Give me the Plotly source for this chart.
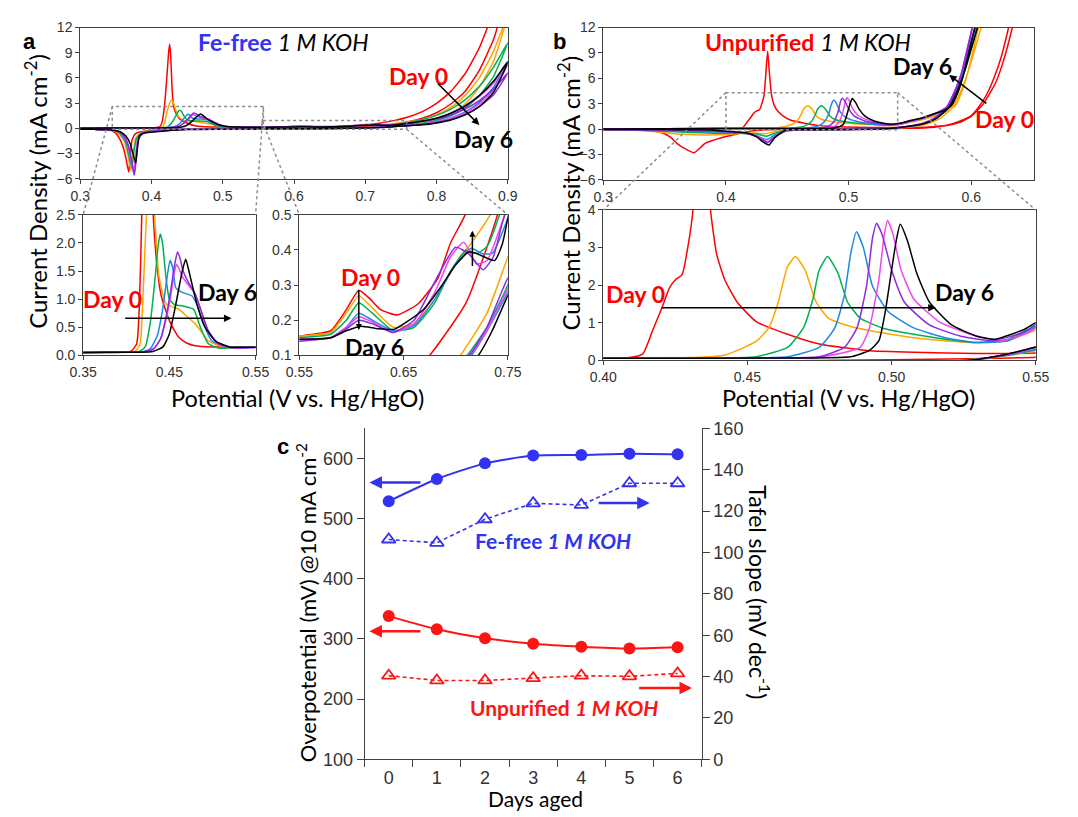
import plotly.graph_objects as go

W, H = 1078, 817

# ---------------- Panel a (Fe-free 1 M KOH) : CV curves, days 0..6 ----------------
A0_FWD_V = [0.300,0.350,0.405,0.412,0.415,0.418,0.421,0.424,0.4255,0.427,0.429,0.431,0.435,0.440,0.446,0.452,0.461,0.470,0.480,0.500,0.530,0.550,0.580,0.595,0.607,0.618,0.628,0.644,0.664,0.683,0.695,0.709,0.720,0.740,0.760,0.780,0.800,0.820,0.840,0.860,0.880,0.900]
A0_FWD_J = [0.00,0.05,0.07,0.20,0.80,2.50,5.50,9.00,10.0,8.50,4.50,2.60,1.70,1.10,0.79,0.55,0.32,0.22,0.17,0.15,0.15,0.155,0.17,0.23,0.285,0.26,0.23,0.215,0.247,0.32,0.42,0.50,0.62,0.92,1.36,2.00,2.98,4.40,6.50,9.60,14.0,20.0]
A0_REV_V = [0.885,0.880,0.860,0.840,0.820,0.800,0.780,0.760,0.740,0.710,0.675,0.650,0.600,0.550,0.500,0.450,0.420,0.400,0.385,0.378,0.373,0.370,0.368,0.364,0.360,0.355,0.350,0.344,0.320,0.300]
A0_REV_J = [12.0,10.6,6.90,4.40,2.90,1.86,1.20,0.78,0.50,0.25,0.10,0.03,-0.03,-0.05,-0.07,-0.10,-0.15,-0.25,-0.40,-0.60,-1.30,-3.50,-5.20,-3.50,-2.20,-1.20,-0.60,-0.25,-0.12,-0.10]

A1_FWD_V = [0.300,0.350,0.410,0.416,0.419,0.422,0.425,0.428,0.431,0.434,0.438,0.446,0.454,0.461,0.470,0.480,0.488,0.495,0.510,0.530,0.550,0.580,0.595,0.607,0.620,0.640,0.660,0.680,0.700,0.715,0.733,0.750,0.780,0.800,0.820,0.840,0.860,0.880,0.900]
A1_FWD_J = [0.00,0.05,0.07,0.20,0.90,2.00,2.90,3.35,3.00,2.20,1.40,0.92,0.86,0.82,0.70,0.56,0.40,0.26,0.16,0.15,0.155,0.165,0.22,0.27,0.235,0.18,0.19,0.26,0.36,0.42,0.50,0.66,1.05,1.60,2.50,3.90,6.00,9.20,13.5]
A1_REV_V = [0.880,0.860,0.840,0.820,0.800,0.780,0.760,0.750,0.730,0.7045,0.680,0.650,0.600,0.550,0.500,0.450,0.420,0.400,0.385,0.378,0.374,0.371,0.367,0.362,0.356,0.350,0.342,0.320,0.300]
A1_REV_J = [8.00,4.90,2.90,1.75,1.10,0.70,0.45,0.38,0.22,0.10,0.02,-0.03,-0.05,-0.06,-0.08,-0.10,-0.15,-0.30,-0.50,-1.20,-3.00,-5.00,-3.20,-1.60,-0.80,-0.40,-0.20,-0.12,-0.10]

A2_FWD_V = [0.300,0.350,0.415,0.422,0.428,0.433,0.437,0.4395,0.442,0.446,0.450,0.456,0.465,0.478,0.486,0.495,0.507,0.530,0.550,0.580,0.595,0.607,0.620,0.640,0.660,0.680,0.695,0.710,0.720,0.730,0.742,0.760,0.780,0.800,0.820,0.840,0.860,0.880,0.900]
A2_FWD_J = [0.00,0.05,0.07,0.15,0.60,1.30,1.95,2.16,2.00,1.40,1.00,0.90,0.88,0.82,0.50,0.21,0.13,0.14,0.15,0.16,0.20,0.25,0.22,0.17,0.18,0.25,0.34,0.40,0.39,0.41,0.50,0.70,1.05,1.55,2.30,3.40,5.00,7.30,10.2]
A2_REV_V = [0.880,0.860,0.840,0.820,0.800,0.780,0.760,0.750,0.730,0.711,0.690,0.650,0.600,0.550,0.500,0.450,0.420,0.400,0.386,0.379,0.375,0.3725,0.369,0.365,0.360,0.354,0.345,0.320,0.300]
A2_REV_J = [6.20,3.90,2.40,1.50,0.95,0.60,0.40,0.30,0.18,0.10,0.04,-0.02,-0.05,-0.06,-0.08,-0.10,-0.15,-0.30,-0.50,-1.20,-3.00,-4.70,-3.50,-2.00,-1.10,-0.50,-0.20,-0.12,-0.10]

A3_FWD_V = [0.300,0.350,0.420,0.428,0.436,0.442,0.447,0.4508,0.454,0.4575,0.465,0.476,0.482,0.488,0.499,0.518,0.550,0.580,0.595,0.607,0.620,0.640,0.660,0.680,0.700,0.715,0.725,0.735,0.750,0.770,0.800,0.820,0.840,0.860,0.880,0.900]
A3_FWD_J = [0.00,0.05,0.07,0.12,0.35,0.80,1.35,1.69,1.55,1.20,1.12,1.06,0.90,0.62,0.26,0.15,0.145,0.15,0.18,0.22,0.20,0.17,0.185,0.26,0.36,0.405,0.39,0.39,0.49,0.68,1.20,1.80,2.70,3.90,5.60,8.00]
A3_REV_V = [0.880,0.860,0.840,0.820,0.800,0.780,0.760,0.750,0.730,0.715,0.690,0.650,0.600,0.550,0.500,0.450,0.420,0.400,0.388,0.381,0.378,0.3756,0.372,0.368,0.362,0.355,0.345,0.320,0.300]
A3_REV_J = [4.90,3.10,1.95,1.25,0.80,0.52,0.34,0.28,0.17,0.10,0.04,-0.02,-0.05,-0.06,-0.08,-0.10,-0.20,-0.35,-0.55,-1.30,-3.20,-5.60,-3.80,-2.20,-1.00,-0.45,-0.20,-0.12,-0.10]

A4_FWD_V = [0.300,0.350,0.422,0.432,0.440,0.447,0.452,0.4555,0.4583,0.461,0.465,0.472,0.480,0.488,0.495,0.507,0.525,0.550,0.580,0.595,0.607,0.620,0.640,0.660,0.680,0.695,0.7077,0.720,0.730,0.747,0.770,0.800,0.820,0.840,0.860,0.880,0.900]
A4_FWD_J = [0.00,0.05,0.07,0.12,0.30,0.70,1.10,1.45,1.62,1.55,1.40,1.25,1.09,0.74,0.44,0.20,0.13,0.145,0.15,0.18,0.21,0.195,0.165,0.19,0.28,0.38,0.422,0.36,0.37,0.50,0.72,1.20,1.75,2.60,3.80,5.40,7.60]
A4_REV_V = [0.880,0.860,0.840,0.820,0.800,0.780,0.760,0.750,0.730,0.714,0.690,0.650,0.600,0.550,0.500,0.450,0.420,0.400,0.388,0.381,0.378,0.375,0.371,0.367,0.361,0.355,0.345,0.320,0.300]
A4_REV_J = [4.60,2.90,1.85,1.20,0.78,0.50,0.33,0.29,0.17,0.10,0.04,-0.02,-0.05,-0.06,-0.08,-0.10,-0.20,-0.35,-0.55,-1.30,-3.20,-5.30,-3.70,-2.10,-1.00,-0.45,-0.20,-0.12,-0.10]

A5_FWD_V = [0.300,0.350,0.422,0.432,0.440,0.447,0.452,0.456,0.4594,0.462,0.466,0.472,0.480,0.488,0.495,0.507,0.525,0.550,0.580,0.595,0.607,0.620,0.640,0.660,0.680,0.6998,0.712,0.7263,0.736,0.745,0.760,0.800,0.820,0.840,0.860,0.880,0.900]
A5_FWD_J = [0.00,0.05,0.07,0.12,0.30,0.75,1.20,1.60,1.84,1.75,1.50,1.30,1.09,0.74,0.44,0.20,0.13,0.14,0.15,0.175,0.20,0.19,0.165,0.20,0.31,0.408,0.39,0.344,0.38,0.48,0.62,1.10,1.60,2.30,3.30,4.70,6.60]
A5_REV_V = [0.880,0.860,0.840,0.820,0.800,0.780,0.760,0.750,0.730,0.713,0.690,0.650,0.600,0.550,0.500,0.450,0.420,0.400,0.388,0.382,0.379,0.376,0.372,0.368,0.362,0.355,0.345,0.320,0.300]
A5_REV_J = [4.00,2.60,1.65,1.07,0.70,0.47,0.35,0.32,0.18,0.10,0.04,-0.02,-0.05,-0.06,-0.08,-0.10,-0.20,-0.35,-0.55,-1.30,-3.20,-5.50,-3.80,-2.20,-1.00,-0.45,-0.20,-0.12,-0.10]

A6_FWD_V = [0.300,0.350,0.431,0.4425,0.450,0.4575,0.465,0.469,0.4745,0.482,0.4915,0.503,0.520,0.550,0.580,0.595,0.609,0.625,0.6407,0.6687,0.6874,0.6998,0.7123,0.720,0.7372,0.745,0.750,0.770,0.800,0.820,0.840,0.860,0.880,0.900]
A6_FWD_J = [0.00,0.05,0.07,0.15,0.38,0.91,1.50,1.71,1.38,0.91,0.50,0.26,0.15,0.146,0.15,0.17,0.183,0.176,0.174,0.229,0.302,0.357,0.394,0.39,0.37,0.42,0.49,0.72,1.20,1.80,2.65,3.90,5.60,7.90]
A6_REV_V = [0.880,0.860,0.840,0.820,0.800,0.780,0.760,0.750,0.735,0.7217,0.700,0.650,0.600,0.550,0.500,0.450,0.420,0.400,0.390,0.383,0.380,0.378,0.374,0.370,0.364,0.356,0.345,0.320,0.300]
A6_REV_J = [4.30,2.60,1.60,1.00,0.65,0.42,0.32,0.27,0.17,0.10,0.04,-0.02,-0.05,-0.06,-0.10,-0.15,-0.30,-0.45,-0.55,-0.90,-2.50,-4.10,-3.00,-1.80,-0.90,-0.40,-0.20,-0.12,-0.10]

# ---------------- Panel b (Unpurified 1 M KOH) ----------------
B0_FWD_V = [0.300,0.350,0.400,0.409,0.4137,0.417,0.4202,0.423,0.4251,0.4273,0.4295,0.4311,0.4325,0.434,0.4355,0.4372,0.4393,0.4421,0.4464,0.453,0.4639,0.4749,0.4913,0.5077,0.530,0.550,0.565,0.580,0.590,0.600,0.608,0.614,0.619,0.624,0.628,0.632,0.640]
B0_FWD_J = [0.00,0.03,0.06,0.07,0.17,0.77,1.37,1.93,2.15,2.27,3.09,4.00,6.50,9.20,6.50,4.00,2.83,2.15,1.55,1.03,0.69,0.43,0.26,0.21,0.18,0.19,0.25,0.45,0.90,1.60,3.00,4.50,6.20,8.30,10.5,13.0,18.0]
B0_REV_V = [0.635,0.630,0.625,0.620,0.610,0.600,0.590,0.580,0.570,0.550,0.520,0.480,0.440,0.420,0.410,0.397,0.383,0.374,0.365,0.360,0.355,0.349,0.340,0.320,0.300]
B0_REV_J = [13.0,10.0,7.50,5.50,3.00,1.50,0.75,0.40,0.22,0.08,0.03,0.00,-0.05,-0.25,-0.55,-1.00,-1.70,-2.80,-2.20,-1.70,-1.00,-0.50,-0.20,-0.08,-0.05]

B1_FWD_V = [0.300,0.400,0.430,0.442,0.453,0.4574,0.4607,0.4639,0.4667,0.470,0.4738,0.4781,0.4858,0.4967,0.5077,0.5186,0.5295,0.5404,0.546,0.550,0.560,0.570,0.580,0.587,0.592,0.597,0.6026,0.606,0.615]
B1_FWD_J = [0.00,0.05,0.07,0.13,0.50,0.86,1.55,2.49,2.76,2.40,1.55,1.12,0.90,0.73,0.60,0.52,0.47,0.52,0.69,0.80,1.10,1.50,2.10,2.77,4.30,6.60,10.0,12.0,17.0]
B1_REV_V = [0.610,0.603,0.598,0.593,0.585,0.575,0.565,0.555,0.550,0.540,0.525,0.500,0.470,0.450,0.440,0.432,0.420,0.400,0.380,0.360,0.340,0.320,0.300]
B1_REV_J = [13.0,9.50,7.00,5.00,2.60,1.30,0.65,0.32,0.25,0.12,0.00,-0.05,-0.10,-0.15,-0.30,-0.55,-0.45,-0.65,-0.70,-0.60,-0.30,-0.10,-0.05]

B2_FWD_V = [0.300,0.400,0.440,0.453,0.4639,0.4694,0.4727,0.4749,0.4778,0.4814,0.4847,0.4891,0.4967,0.5077,0.5186,0.5295,0.5404,0.546,0.550,0.560,0.570,0.576,0.583,0.589,0.594,0.5996,0.603,0.612]
B2_FWD_J = [0.00,0.05,0.06,0.09,0.34,0.86,1.63,2.40,2.76,2.32,1.55,1.12,0.86,0.69,0.56,0.47,0.56,0.77,0.90,1.25,1.75,2.20,2.77,4.30,6.60,10.0,12.0,17.0]
B2_REV_V = [0.607,0.600,0.595,0.590,0.582,0.572,0.562,0.552,0.550,0.540,0.525,0.500,0.470,0.450,0.440,0.433,0.425,0.410,0.390,0.370,0.350,0.320,0.300]
B2_REV_J = [13.0,9.50,7.00,5.00,2.60,1.30,0.65,0.32,0.28,0.13,0.00,-0.05,-0.10,-0.12,-0.50,-0.85,-0.60,-0.50,-0.50,-0.40,-0.25,-0.10,-0.05]

B3_FWD_V = [0.300,0.400,0.450,0.4639,0.4749,0.4803,0.4836,0.4858,0.4878,0.4902,0.4934,0.4989,0.5077,0.5186,0.5295,0.5404,0.546,0.550,0.560,0.570,0.576,0.5825,0.5875,0.5925,0.598,0.601,0.610]
B3_FWD_J = [0.00,0.05,0.06,0.09,0.34,0.86,1.72,2.83,3.42,3.00,1.97,1.29,0.86,0.60,0.47,0.52,0.73,0.88,1.25,1.75,2.20,2.77,4.30,6.60,10.0,12.0,17.0]
B3_REV_V = [0.606,0.599,0.594,0.589,0.581,0.571,0.561,0.552,0.550,0.540,0.527,0.500,0.470,0.450,0.440,0.433,0.425,0.410,0.390,0.370,0.350,0.320,0.300]
B3_REV_J = [13.0,9.50,7.00,5.00,2.60,1.30,0.65,0.35,0.30,0.14,0.00,-0.05,-0.10,-0.15,-0.70,-1.25,-0.80,-0.45,-0.35,-0.30,-0.15,-0.08,-0.05]

B4_FWD_V = [0.300,0.400,0.460,0.475,0.4891,0.4923,0.4956,0.4973,0.4986,0.5005,0.5033,0.5077,0.5164,0.5273,0.5383,0.546,0.550,0.560,0.570,0.576,0.582,0.587,0.592,0.5976,0.6008,0.610]
B4_FWD_J = [0.00,0.05,0.06,0.08,0.34,0.86,2.15,3.26,3.72,3.35,2.40,1.63,1.03,0.69,0.52,0.69,0.85,1.25,1.80,2.20,2.77,4.30,6.60,10.0,12.0,17.0]
B4_REV_V = [0.605,0.598,0.593,0.588,0.580,0.570,0.560,0.552,0.550,0.540,0.527,0.500,0.470,0.450,0.440,0.434,0.426,0.415,0.400,0.370,0.350,0.320,0.300]
B4_REV_J = [13.0,9.50,7.00,5.00,2.60,1.30,0.65,0.38,0.33,0.15,0.00,-0.05,-0.10,-0.20,-0.85,-1.50,-0.90,-0.45,-0.30,-0.20,-0.12,-0.08,-0.05]

B5_FWD_V = [0.300,0.400,0.460,0.4749,0.4836,0.488,0.4913,0.4934,0.4948,0.4967,0.500,0.5044,0.5131,0.524,0.535,0.546,0.550,0.560,0.570,0.576,0.582,0.587,0.592,0.5976,0.6008,0.610]
B5_FWD_J = [0.00,0.05,0.06,0.09,0.34,0.86,1.97,3.26,3.65,3.35,2.40,1.55,0.94,0.64,0.52,0.75,0.95,1.30,1.80,2.20,2.77,4.30,6.60,10.0,12.0,17.0]
B5_REV_V = [0.605,0.598,0.593,0.588,0.580,0.570,0.560,0.552,0.550,0.540,0.527,0.500,0.470,0.450,0.440,0.434,0.426,0.415,0.400,0.370,0.350,0.320,0.300]
B5_REV_J = [13.0,9.50,7.00,5.00,2.60,1.30,0.65,0.40,0.35,0.16,0.00,-0.05,-0.10,-0.20,-0.90,-1.60,-0.95,-0.45,-0.30,-0.20,-0.12,-0.08,-0.05]

B6_FWD_V = [0.300,0.400,0.470,0.4858,0.4923,0.4956,0.4978,0.500,0.5016,0.503,0.5055,0.5087,0.5131,0.5208,0.5295,0.536,0.546,0.550,0.560,0.570,0.578,0.584,0.589,0.594,0.5996,0.603,0.612]
B6_FWD_J = [0.00,0.05,0.06,0.09,0.26,0.52,1.29,2.40,3.18,3.62,3.18,2.32,1.55,0.94,0.64,0.56,0.82,1.00,1.30,1.80,2.20,2.77,4.30,6.60,10.0,12.0,17.0]
B6_REV_V = [0.607,0.600,0.595,0.590,0.582,0.572,0.562,0.553,0.550,0.540,0.527,0.500,0.470,0.449,0.440,0.435,0.430,0.425,0.418,0.395,0.380,0.350,0.300]
B6_REV_J = [13.0,9.50,7.00,5.00,2.60,1.30,0.65,0.40,0.35,0.16,0.00,-0.05,-0.08,-0.10,-1.00,-1.90,-1.50,-0.92,-0.50,-0.20,-0.10,-0.06,-0.05]

# ---------------- Panel c ----------------
DAYS = ["0", "1", "2", "3", "4", "5", "6"]
FEFREE_OVERPOT = [529, 566, 592, 605, 606, 608, 607]
FEFREE_TAFEL = [106.3, 104.7, 116.1, 123.8, 123.0, 133.5, 133.5]
UNPUR_OVERPOT = [338, 316, 301, 292, 287, 284, 286]
UNPUR_TAFEL = [40.4, 38.1, 38.1, 39.2, 40.4, 40.1, 41.5]

DAY_COLORS = ["#FF0000", "#FFA500", "#00B050", "#1E88E5", "#F046F0", "#8A2BE2", "#000000"]
BLUE_C = "#3232F0"
RED_C = "#FF1414"

A_CURVES = [(A0_FWD_V, A0_FWD_J, A0_REV_V, A0_REV_J), (A1_FWD_V, A1_FWD_J, A1_REV_V, A1_REV_J),
            (A2_FWD_V, A2_FWD_J, A2_REV_V, A2_REV_J), (A3_FWD_V, A3_FWD_J, A3_REV_V, A3_REV_J),
            (A4_FWD_V, A4_FWD_J, A4_REV_V, A4_REV_J), (A5_FWD_V, A5_FWD_J, A5_REV_V, A5_REV_J),
            (A6_FWD_V, A6_FWD_J, A6_REV_V, A6_REV_J)]
B_CURVES = [(B0_FWD_V, B0_FWD_J, B0_REV_V, B0_REV_J), (B1_FWD_V, B1_FWD_J, B1_REV_V, B1_REV_J),
            (B2_FWD_V, B2_FWD_J, B2_REV_V, B2_REV_J), (B3_FWD_V, B3_FWD_J, B3_REV_V, B3_REV_J),
            (B4_FWD_V, B4_FWD_J, B4_REV_V, B4_REV_J), (B5_FWD_V, B5_FWD_J, B5_REV_V, B5_REV_J),
            (B6_FWD_V, B6_FWD_J, B6_REV_V, B6_REV_J)]
for c in A_CURVES + B_CURVES:
    assert len(c[0]) == len(c[1]) and len(c[2]) == len(c[3])


def xd(p0, p1):
    return [p0 / W, p1 / W]


def yd(top, bot):
    return [1 - bot / H, 1 - top / H]


# subplot geometry (pixel boxes) and ranges
SUB = {
    "1": dict(xdom=xd(68, 507), ydom=yd(18, 173), xr=[0.3, 0.9], yr=[-6, 12]),
    "2": dict(xdom=xd(71, 248), ydom=yd(210, 354), xr=[0.35, 0.55], yr=[0, 2.5]),
    "3": dict(xdom=xd(293, 507), ydom=yd(210, 354), xr=[0.55, 0.75], yr=[0.1, 0.5]),
    "4": dict(xdom=xd(605, 1047), ydom=yd(18, 174), xr=[0.3, 0.651], yr=[-6, 12]),
    "5": dict(xdom=xd(605, 1049), ydom=yd(205, 359), xr=[0.40, 0.55], yr=[0, 4]),
}


def to_paper(sid, v, j):
    s = SUB[sid]
    px = s["xdom"][0] + (v - s["xr"][0]) / (s["xr"][1] - s["xr"][0]) * (s["xdom"][1] - s["xdom"][0])
    py = s["ydom"][0] + (j - s["yr"][0]) / (s["yr"][1] - s["yr"][0]) * (s["ydom"][1] - s["ydom"][0])
    return px, py


fig = go.Figure()


def ax_name(prefix, sid):
    return prefix if sid == "1" else prefix + sid


for sids, curves in ((["1", "2", "3"], A_CURVES), (["4", "5"], B_CURVES)):
    for sid in sids:
        for k, (fv, fj, rv, rj) in enumerate(curves):
            fig.add_trace(go.Scatter(
                x=fv + rv, y=fj + rj, mode="lines",
                line=dict(color=DAY_COLORS[k], width=1.5, shape="spline", smoothing=0.5),
                xaxis=ax_name("x", sid), yaxis=ax_name("y", sid), showlegend=False, hoverinfo="skip"))

# panel c traces
fig.add_trace(go.Scatter(x=DAYS, y=FEFREE_OVERPOT, mode="lines+markers",
                         line=dict(color=BLUE_C, width=2, shape="spline", smoothing=0.6),
                         marker=dict(symbol="circle", size=12, color=BLUE_C),
                         xaxis="x6", yaxis="y6", showlegend=False))
fig.add_trace(go.Scatter(x=DAYS, y=UNPUR_OVERPOT, mode="lines+markers",
                         line=dict(color=RED_C, width=2, shape="spline", smoothing=0.6),
                         marker=dict(symbol="circle", size=12, color=RED_C),
                         xaxis="x6", yaxis="y6", showlegend=False))
fig.add_trace(go.Scatter(x=DAYS, y=FEFREE_TAFEL, mode="lines+markers",
                         line=dict(color=BLUE_C, width=1.6, dash="4px,3px"),
                         marker=dict(symbol="triangle-up-open", size=12, color=BLUE_C, line=dict(width=1.8)),
                         xaxis="x6", yaxis="y7", showlegend=False))
fig.add_trace(go.Scatter(x=DAYS, y=UNPUR_TAFEL, mode="lines+markers",
                         line=dict(color=RED_C, width=1.6, dash="4px,3px"),
                         marker=dict(symbol="triangle-up-open", size=12, color=RED_C, line=dict(width=1.8)),
                         xaxis="x6", yaxis="y7", showlegend=False))

AXC = "#404040"
TICKFONT = dict(family="Liberation Sans, Arial, sans-serif", size=14, color="#333333")
TICKFONT_C = dict(family="Liberation Sans, Arial, sans-serif", size=18, color="#333333")

A_TOP_XT = [0.3, 0.4, 0.5, 0.6, 0.7, 0.8, 0.9]
A_TOP_XL = ["0.3", "0.4", "0.5", "0.6", "0.7", "0.8", "0.9"]
AB_TOP_YT = [-6, -3, 0, 3, 6, 9, 12]
A_LL_XT = [0.35, 0.45, 0.55]
A_LL_YT = [0, 0.5, 1.0, 1.5, 2.0, 2.5]
A_LR_XT = [0.55, 0.65, 0.75]
A_LR_YT = [0.1, 0.2, 0.3, 0.4, 0.5]
B_TOP_XT = [0.3, 0.4, 0.5, 0.6]
B_IN_XT = [0.40, 0.45, 0.50, 0.55]
B_IN_YT = [0, 1, 2, 3, 4]
C_LEFT_YT = [100, 200, 300, 400, 500, 600]


def base_axis(**kw):
    d = dict(showline=True, linecolor=AXC, linewidth=1, mirror=True, ticks="outside", ticklen=4,
             tickcolor=AXC, tickfont=TICKFONT, showgrid=False, zeroline=False)
    d.update(kw)
    return d


layout = dict(
    width=W, height=H, margin=dict(l=0, r=0, t=0, b=0),
    paper_bgcolor="white", plot_bgcolor="white", showlegend=False,
    xaxis=base_axis(domain=SUB["1"]["xdom"], range=SUB["1"]["xr"], anchor="y", tickvals=A_TOP_XT, ticktext=A_TOP_XL),
    yaxis=base_axis(domain=SUB["1"]["ydom"], range=SUB["1"]["yr"], anchor="x", tickvals=AB_TOP_YT),
    xaxis2=base_axis(domain=SUB["2"]["xdom"], range=SUB["2"]["xr"], anchor="y2", tickvals=A_LL_XT, tickformat=".2f"),
    yaxis2=base_axis(domain=SUB["2"]["ydom"], range=SUB["2"]["yr"], anchor="x2", tickvals=A_LL_YT, tickformat=".1f"),
    xaxis3=base_axis(domain=SUB["3"]["xdom"], range=SUB["3"]["xr"], anchor="y3", tickvals=A_LR_XT, tickformat=".2f"),
    yaxis3=base_axis(domain=SUB["3"]["ydom"], range=SUB["3"]["yr"], anchor="x3", tickvals=A_LR_YT, tickformat=".1f"),
    xaxis4=base_axis(domain=SUB["4"]["xdom"], range=SUB["4"]["xr"], anchor="y4", tickvals=B_TOP_XT, tickformat=".1f"),
    yaxis4=base_axis(domain=SUB["4"]["ydom"], range=SUB["4"]["yr"], anchor="x4", tickvals=AB_TOP_YT),
    xaxis5=base_axis(domain=SUB["5"]["xdom"], range=SUB["5"]["xr"], anchor="y5", tickvals=B_IN_XT, tickformat=".2f"),
    yaxis5=base_axis(domain=SUB["5"]["ydom"], range=SUB["5"]["yr"], anchor="x5", tickvals=B_IN_YT),
    xaxis6=dict(domain=xd(360, 706), type="category", anchor="y6", showline=True, linecolor=AXC, linewidth=1.2,
                ticks="outside", ticklen=7, tickcolor=AXC, tickson="boundaries", tickfont=TICKFONT_C,
                ticklabelstandoff=2, showgrid=False, zeroline=False, range=[-0.5, 6.5]),
    yaxis6=dict(domain=yd(429, 768), range=[100, 650], anchor="x6", showline=True, linecolor=AXC, linewidth=1.2,
                ticks="outside", ticklen=7, tickcolor=AXC, tickvals=C_LEFT_YT,
                tickfont=TICKFONT_C, showgrid=False, zeroline=False),
    yaxis7=dict(range=[0, 160], overlaying="y6", side="right", anchor="x6", showline=True, linecolor=AXC,
                linewidth=1.2, ticks="outside", ticklen=7, tickcolor=AXC, dtick=20, tickfont=TICKFONT_C,
                showgrid=False, zeroline=False),
)
fig.update_layout(**layout)

TXT = "Lato, 'Open Sans', sans-serif"
ann = []


def label(px, py, text, size=20, color="black", angle=0, family=TXT):
    ann.append(dict(x=px / W, y=1 - py / H, xref="paper", yref="paper", text=text, showarrow=False,
                    textangle=angle, font=dict(family=family, size=size, color=color),
                    xanchor="center", yanchor="middle"))


def arrow(xref, yref, x0, y0, x1, y1, color="black", width=1.5, size=1.0):
    ann.append(dict(x=x1, y=y1, ax=x0, ay=y0, xref=xref, yref=yref, axref=xref, ayref=yref, text="",
                    showarrow=True, arrowhead=2, arrowsize=size, arrowwidth=width, arrowcolor=color))


BOLDF = "Liberation Sans, Arial, sans-serif"
DAYSZ = 23
# panel letters
label(16, 32, "<b>a</b>", 22, family=BOLDF)
label(560, 32, "<b>b</b>", 22, family=BOLDF)
label(276, 447, "<b>c</b>", 22, family=BOLDF)

# panel a texts
label(277, 33, "<b><span style='color:%s'>Fe-free</span></b> <i>1 M KOH</i>" % BLUE_C, 23)
label(415, 68, "<b>Day 0</b>", DAYSZ, "#FF0000")
label(482, 132, "<b>Day 6</b>", DAYSZ, "black")
arrow("x", "y", 0.800, 5.5, 0.860, 0.4)
label(101, 296, "<b>Day 0</b>", DAYSZ, "#FF0000")
label(219, 289, "<b>Day 6</b>", DAYSZ, "black")
arrow("x2", "y2", 0.397, 0.66, 0.522, 0.66)
label(366, 274, "<b>Day 0</b>", DAYSZ, "#FF0000")
label(370, 345, "<b>Day 6</b>", DAYSZ, "black")
arrow("x3", "y3", 0.607, 0.29, 0.607, 0.172, size=0.8)
arrow("x3", "y3", 0.716, 0.35, 0.716, 0.455, size=0.8)

# panel b texts
label(815, 33, "<b><span style='color:#FF0000'>Unpurified</span></b> <i>1 M KOH</i>", 23)
label(933, 57, "<b>Day 6</b>", DAYSZ, "black")
label(1017, 112, "<b>Day 0</b>", DAYSZ, "#FF0000")
arrow("x4", "y4", 0.6135, 2.9, 0.582, 6.4)
label(638, 291, "<b>Day 0</b>", DAYSZ, "#FF0000")
label(976, 289, "<b>Day 6</b>", DAYSZ, "black")
arrow("x5", "y5", 0.4197, 1.4, 0.5153, 1.4)

# axis titles
label(23, 186, "Current Density (mA cm<sup>-2</sup>)", 24, "black", -90)
label(570, 188, "Current Density (mA cm<sup>-2</sup>)", 24, "black", -90)
label(291, 398, "Potential (V vs. Hg/HgO)", 23.5)
label(857, 398, "Potential (V vs. Hg/HgO)", 23.5)
label(300, 608, "Overpotential (mV) @10 mA cm<sup>-2</sup>", 22, "black", -90)
label(765, 597, "Tafel slope (mV dec<sup>-1</sup>)", 23, "black", 90)
label(535, 808, "Days aged", 21)

# panel c texts and arrows
label(553, 544, "<b>Fe-free <i>1 M KOH</i></b>", 21, BLUE_C)
label(565, 715, "<b>Unpurified <i>1 M KOH</i></b>", 21, RED_C)
arrow("x6", "y6", 0.69, 560, -0.40, 560, BLUE_C, 2.5, 1.0)
arrow("x6", "y6", 0.69, 313, -0.40, 313, RED_C, 2.5, 1.0)
arrow("x6", "y7", 4.33, 124, 5.42, 124, BLUE_C, 2.5, 1.0)
arrow("x6", "y7", 5.17, 34.4, 6.30, 34.4, RED_C, 2.5, 1.0)

fig.update_layout(annotations=ann)

# zoom boxes and connector lines
DOT = dict(color="#8C8C8C", width=1.5, dash="dot")
shapes = []
shapes.append(dict(type="rect", xref="x", yref="y", x0=0.345, x1=0.557, y0=-0.1, y1=2.6, line=DOT))
shapes.append(dict(type="rect", xref="x", yref="y", x0=0.555, x1=0.758, y0=-0.1, y1=0.95, line=DOT))
shapes.append(dict(type="rect", xref="x4", yref="y4", x0=0.40, x1=0.54, y0=-0.1, y1=4.3, line=DOT))


def connector(sa, va, ja, sb, vb, jb):
    x0, y0 = to_paper(sa, va, ja)
    x1, y1 = to_paper(sb, vb, jb)
    shapes.append(dict(type="line", xref="paper", yref="paper", x0=x0, y0=y0, x1=x1, y1=y1, line=DOT))


connector("1", 0.345, 2.6, "2", 0.35, 2.5)
connector("1", 0.557, 2.6, "2", 0.55, 2.5)
connector("1", 0.555, 0.95, "3", 0.55, 0.5)
connector("1", 0.758, -0.1, "3", 0.75, 0.5)
connector("4", 0.40, 4.3, "5", 0.40, 4.0)
connector("4", 0.54, 4.3, "5", 0.55, 4.0)
fig.update_layout(shapes=shapes)

fig.write_html("out.html")
